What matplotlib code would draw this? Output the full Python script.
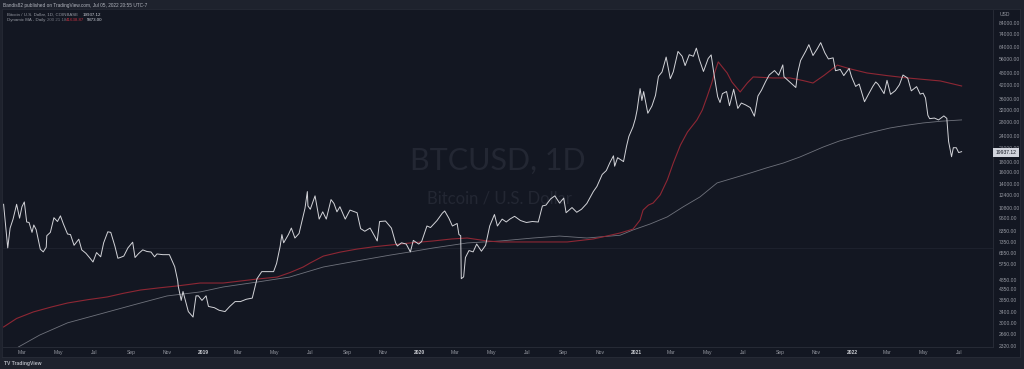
import matplotlib
matplotlib.use("Agg")
import matplotlib.pyplot as plt
import matplotlib.transforms as mtransforms
import pandas as pd

# ---------------- data ----------------
price_dates = [
 "2018-01-29","2018-02-01","2018-02-05","2018-02-09","2018-02-14","2018-02-20","2018-02-25","2018-03-01","2018-03-05",
 "2018-03-09","2018-03-13","2018-03-18","2018-03-21","2018-03-25","2018-04-01","2018-04-06","2018-04-11","2018-04-12",
 "2018-04-18","2018-04-24","2018-04-30","2018-05-05","2018-05-10","2018-05-17","2018-05-22","2018-05-28","2018-06-05",
 "2018-06-10","2018-06-17","2018-06-24","2018-06-29","2018-07-05","2018-07-12","2018-07-17","2018-07-24","2018-07-29",
 "2018-08-05","2018-08-10","2018-08-14","2018-08-20","2018-08-27","2018-09-04","2018-09-08","2018-09-14","2018-09-21",
 "2018-09-28","2018-10-05","2018-10-11","2018-10-15","2018-10-25","2018-11-05","2018-11-14","2018-11-19","2018-11-20",
 "2018-11-25","2018-11-28","2018-12-07","2018-12-15","2018-12-20","2018-12-24","2018-12-30",
 "2019-01-06","2019-01-10","2019-01-20","2019-01-28","2019-02-07","2019-02-15","2019-02-24","2019-03-05","2019-03-15",
 "2019-03-25","2019-04-02","2019-04-10","2019-04-20","2019-04-30","2019-05-05","2019-05-11","2019-05-14","2019-05-17",
 "2019-05-25","2019-05-30","2019-06-05","2019-06-12","2019-06-17","2019-06-22","2019-06-26","2019-06-27","2019-07-01",
 "2019-07-09","2019-07-16","2019-07-22","2019-07-28","2019-08-05","2019-08-10","2019-08-15","2019-08-20","2019-08-29",
 "2019-09-06","2019-09-18","2019-09-24","2019-10-01","2019-10-10","2019-10-22","2019-10-26","2019-11-05","2019-11-15",
 "2019-11-22","2019-11-25","2019-12-02","2019-12-10","2019-12-17","2019-12-22","2019-12-31",
 "2020-01-05","2020-01-14","2020-01-20","2020-01-31","2020-02-09","2020-02-13","2020-02-20","2020-02-26","2020-03-05",
 "2020-03-08","2020-03-11","2020-03-12","2020-03-16","2020-03-19","2020-03-25","2020-04-01","2020-04-07","2020-04-15",
 "2020-04-22","2020-04-29","2020-05-07","2020-05-12","2020-05-20","2020-05-27","2020-06-02","2020-06-10","2020-06-20",
 "2020-06-30","2020-07-10","2020-07-20","2020-07-27","2020-08-02","2020-08-10","2020-08-17","2020-08-25","2020-09-01",
 "2020-09-05","2020-09-15","2020-09-23","2020-10-01","2020-10-10","2020-10-21","2020-10-27","2020-11-05","2020-11-12",
 "2020-11-18","2020-11-24","2020-11-26","2020-12-01","2020-12-11","2020-12-16","2020-12-20","2020-12-27","2020-12-31",
 "2021-01-03","2021-01-08","2021-01-11","2021-01-14","2021-01-21","2021-01-28","2021-02-03","2021-02-08","2021-02-14",
 "2021-02-21","2021-02-28","2021-03-05","2021-03-13","2021-03-20","2021-03-25","2021-04-01","2021-04-08","2021-04-13",
 "2021-04-18","2021-04-25","2021-05-03","2021-05-08","2021-05-12","2021-05-19","2021-05-23","2021-05-27","2021-06-03",
 "2021-06-08","2021-06-15","2021-06-22","2021-06-28","2021-07-05","2021-07-13","2021-07-20","2021-07-26","2021-08-01",
 "2021-08-08","2021-08-14","2021-08-23","2021-08-30","2021-09-06","2021-09-08","2021-09-20","2021-09-28","2021-10-01",
 "2021-10-06","2021-10-15","2021-10-20","2021-10-27","2021-11-03","2021-11-09","2021-11-16","2021-11-22","2021-11-30",
 "2021-12-04","2021-12-12","2021-12-18","2021-12-27","2021-12-31",
 "2022-01-07","2022-01-13","2022-01-22","2022-01-28","2022-02-05","2022-02-10","2022-02-14","2022-02-24","2022-03-01",
 "2022-03-07","2022-03-15","2022-03-22","2022-03-28","2022-04-05","2022-04-11","2022-04-20","2022-04-26","2022-05-01",
 "2022-05-05","2022-05-09","2022-05-12","2022-05-20","2022-05-27","2022-06-05","2022-06-10","2022-06-13","2022-06-18",
 "2022-06-21","2022-06-26","2022-06-30","2022-07-05"]
price_values = [
 11200,9100,6900,8600,9500,11200,9600,10900,11500,
 9200,9150,8200,8900,8450,6800,6600,6950,7900,
 8200,9650,9250,9850,9000,8050,8000,7100,7600,
 6750,6500,6150,5900,6550,6250,7300,8250,8200,
 7030,6150,6200,6300,6900,7350,6200,6480,6750,
 6630,6590,6250,6450,6400,6400,5600,4800,4500,
 3850,4250,3400,3200,4050,4050,3850,
 4050,3600,3550,3450,3400,3600,3800,3800,3900,
 3950,4900,5300,5300,5300,5800,7000,8000,7300,
 8000,8600,7700,8100,9300,10700,12900,11000,10600,
 12300,9500,10300,9500,11800,11300,10300,10900,9500,
 10500,10200,8550,8300,8600,7450,9250,9300,8600,
 7300,7050,7300,7200,6600,7500,7200,
 7400,8800,8650,9350,10150,10400,9600,8800,9050,
 8000,7900,4900,5000,6200,6700,6600,7200,6650,
 7100,8800,10000,8800,9500,9200,9500,9800,9350,
 9150,9250,9200,11000,11100,11900,12300,11350,12000,
 10200,10800,10250,10600,11300,12900,13650,15600,16300,
 17800,19200,17100,18800,18000,21300,23800,26500,29000,
 32000,40500,35500,39200,30800,33400,37600,46400,48700,
 57500,45200,48800,61200,58000,52300,59000,58000,63500,
 56000,49000,56600,58900,49200,37000,34700,38300,39200,
 33500,40200,32500,34500,33800,32800,29800,37300,39800,
 43800,47100,49500,47000,52700,46200,43000,41000,48100,
 55300,61600,66000,58500,62900,67500,60300,56300,57000,
 49400,50100,46800,50700,46300,
 41500,42600,35000,37700,41500,43600,42500,38300,44400,
 38000,39600,42300,47100,45500,39500,41400,38100,38500,
 36500,30100,29000,29200,28600,29900,29100,22500,19000,
 21000,21000,19900,20100]

red_ma_dates = [
 "2018-01-29","2018-02-20","2018-03-20","2018-04-20","2018-05-17","2018-06-20","2018-07-23","2018-08-20",
 "2018-09-17","2018-10-20","2018-11-18","2018-12-27","2019-02-04","2019-04-02","2019-05-06","2019-05-28",
 "2019-06-19","2019-07-01","2019-07-23","2019-08-20","2019-09-18","2019-10-15","2019-11-13","2019-12-17",
 "2020-01-24","2020-02-25","2020-03-22","2020-04-25","2020-05-17","2020-07-11","2020-09-07","2020-10-21",
 "2020-11-15","2020-12-05","2020-12-27","2021-01-08","2021-01-13","2021-01-22","2021-01-30","2021-02-11",
 "2021-02-23","2021-03-05","2021-03-17","2021-03-29","2021-04-14","2021-04-23","2021-05-01","2021-05-09",
 "2021-05-14","2021-05-20","2021-05-28","2021-06-04","2021-06-12","2021-06-26","2021-07-08","2021-07-18",
 "2021-08-20","2021-09-18","2021-10-10","2021-10-27","2021-11-15","2021-12-07","2021-12-28","2022-01-26",
 "2022-03-01","2022-04-04","2022-05-30","2022-07-05"]
red_ma_values = [
 2866,3150,3385,3580,3740,3880,4000,4170,
 4320,4430,4520,4670,4670,4880,4990,5250,
 5580,5840,6300,6580,6810,6980,7120,7290,
 7450,7620,7700,7450,7370,7370,7370,7620,
 7900,8140,8500,9400,10500,11100,11360,12440,
 14700,17700,21600,25000,28600,31900,36900,43100,
 48500,54500,51000,48200,43600,39000,43100,46100,
 45600,45600,44300,43100,47000,52600,50500,48200,
 46800,45600,44100,41700]

gray_ma_dates = ["2018-02-23","2018-03-31","2018-05-17","2018-07-11","2018-09-05","2018-11-01","2018-12-27",
 "2019-02-04","2019-04-02","2019-05-27","2019-07-23","2019-09-18","2019-11-13","2019-12-17",
 "2020-01-24","2020-03-22","2020-05-17","2020-07-11","2020-08-25","2020-10-10","2020-12-05",
 "2020-12-27","2021-01-25","2021-02-23","2021-03-22","2021-04-19","2021-05-18","2021-06-15","2021-07-13",
 "2021-08-10","2021-09-07","2021-10-05","2021-11-13","2021-12-10","2022-01-09","2022-02-05","2022-03-06",
 "2022-04-01","2022-05-01","2022-06-01","2022-07-05"]
gray_ma_values = [2294,2620,3000,3310,3660,4045,4230,
 4470,4720,4990,5580,5970,6370,6600,
 6890,7290,7450,7700,7870,7700,7940,
 8420,9000,9740,10900,12150,14200,15000,15850,
 16800,17720,18950,21150,22600,23900,25000,26150,
 26900,27650,28200,28600]

ytick_values = [84000,74000,64000,56000,48000,42000,36000,32000,28000,24000,21000,18000,16000,14000,
                12400,10800,9600,8350,7350,6550,5750,4850,4350,3850,3400,3000,2660,2320]
month_ticks = ["2018-03-01","2018-05-01","2018-07-01","2018-09-01","2018-11-01","2019-01-01",
               "2019-03-01","2019-05-01","2019-07-01","2019-09-01","2019-11-01","2020-01-01",
               "2020-03-01","2020-05-01","2020-07-01","2020-09-01","2020-11-01","2021-01-01",
               "2021-03-01","2021-05-01","2021-07-01","2021-09-01","2021-11-01","2022-01-01",
               "2022-03-01","2022-05-01","2022-07-01"]
last_price = 19937.12

# ---------------- style ----------------
BG = "#131722"
FRAME = "#1e222d"
TXT = "#9598a1"
plt.rcParams["font.family"] = ["Liberation Sans", "DejaVu Sans"]

W, H = 1024, 369
fig = plt.figure(figsize=(W / 100, H / 100), dpi=100, facecolor=FRAME)

# chart panel (background)
bgax = fig.add_axes([2 / W, 1 - 357 / H, 1018 / W, 348 / H], zorder=-5)
bgax.set_facecolor(BG)
bgax.set_xticks([])
bgax.set_yticks([])
for s in bgax.spines.values():
    s.set_color("#2a2e39")
    s.set_linewidth(0.5)

ax = fig.add_axes([3 / W, 1 - 347 / H, 990 / W, 337 / H], zorder=1)
ax.set_facecolor("none")

ax.plot(pd.to_datetime(gray_ma_dates), gray_ma_values, color="#6f727c", lw=0.6, zorder=2)
ax.plot(pd.to_datetime(red_ma_dates), red_ma_values, color="#8e2734", lw=0.8, zorder=3)
ax.plot(pd.to_datetime(price_dates), price_values, color="#d3d4d9", lw=0.7, zorder=4)

ax.axhline(6890, color="#222633", lw=0.5, zorder=1)

ax.set_yscale("log")
ax.set_ylim(2294, 97000)
ax.set_xlim(pd.Timestamp("2018-01-28"), pd.Timestamp("2022-08-27"))

# y axis (right)
ax.yaxis.tick_right()
ax.set_yticks(ytick_values)
ax.set_yticklabels([f"{v:.2f}" for v in ytick_values])
ax.yaxis.set_minor_locator(matplotlib.ticker.NullLocator())
ax.tick_params(axis="y", length=0, pad=4, labelsize=3.6, labelcolor=TXT)

# x axis
mt = pd.to_datetime(month_ticks)
ax.set_xticks(mt)
labels = [str(d.year) if d.month == 1 else d.strftime("%b") for d in mt]
ax.set_xticklabels(labels)
ax.xaxis.set_minor_locator(matplotlib.ticker.NullLocator())
ax.tick_params(axis="x", length=0, pad=2.5, labelsize=3.6, labelcolor=TXT)
for lab, d in zip(ax.get_xticklabels(), mt):
    if d.month == 1:
        lab.set_fontweight("bold")
        lab.set_color("#c9cbd1")

for s in ["top", "left"]:
    ax.spines[s].set_visible(False)
for s in ["right", "bottom"]:
    ax.spines[s].set_color("#2a2e39")
    ax.spines[s].set_linewidth(0.6)

# last price label
trans = mtransforms.blended_transform_factory(ax.transAxes, ax.transData)
ax.text(1.0025, last_price, f"{last_price:.2f}", transform=trans, fontsize=3.6, color="#131722",
        va="center", ha="left", clip_on=False, zorder=10,
        bbox=dict(boxstyle="square,pad=0.45", facecolor="#d1d4dc", edgecolor="none"))

# watermark
fig.text(498 / W, 1 - 161 / H, "BTCUSD, 1D", fontsize=22, color="#232733", ha="center", va="center",
         family=["Lato", "DejaVu Sans"], zorder=0)
fig.text(499 / W, 1 - 198 / H, "Bitcoin / U.S. Dollar", fontsize=12, color="#232733", ha="center",
         va="center", family=["Lato", "DejaVu Sans"], zorder=0)

# header / legend
fig.text(3 / W, 1 - 5 / H, "Bandis82 published on TradingView.com, Jul 05, 2022 20:55 UTC-7",
         fontsize=3.4, color="#b2b5be", ha="left", va="center")
fig.text(7 / W, 1 - 14.5 / H, "Bitcoin / U.S. Dollar, 1D, COINBASE", fontsize=3.2, color=TXT,
         ha="left", va="center")
fig.text(83 / W, 1 - 14.5 / H, f"{last_price:.2f}", fontsize=3.2, color="#d1d4dc", ha="left", va="center")
fig.text(7 / W, 1 - 20 / H, "Dynamic MA - Daily", fontsize=3.2, color=TXT, ha="left", va="center")
fig.text(47 / W, 1 - 20 / H, "200 21 18", fontsize=3.2, color="#6f727c", ha="left", va="center")
fig.text(66 / W, 1 - 20 / H, "41638.87", fontsize=3.2, color="#c0303f", ha="left", va="center")
fig.text(87 / W, 1 - 20 / H, "5873.00", fontsize=3.2, color="#d1d4dc", ha="left", va="center")

fig.text(1000 / W, 1 - 14 / H, "USD", fontsize=3.6, color=TXT, ha="left", va="center")

# footer
fig.text(4 / W, 1 - 363 / H, "TV TradingView", fontsize=3.6, color="#b2b5be", ha="left", va="center",
         fontweight="bold")

fig.savefig("out.png", dpi=100, facecolor=FRAME)
